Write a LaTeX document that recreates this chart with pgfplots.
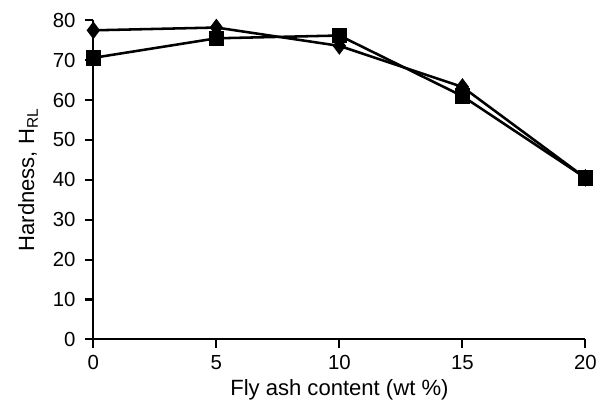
\documentclass[border=0pt]{standalone}
\usepackage{pgfplots}
\pgfplotsset{compat=1.18}
\usepackage{fontspec}
\setmainfont{Liberation Sans}
\setsansfont{Liberation Sans}

\begin{document}
\begin{tikzpicture}
  \begin{axis}[
      scale only axis,
      width=290pt, height=188pt,
      xmin=0, xmax=20, ymin=0, ymax=80,
      xtick={0,5,10,15,20},
      ytick={0,10,...,80},
      axis x line*=bottom,
      axis y line*=left,
      axis line style={line width=1.2pt, -},
      tick align=outside,
      major tick length=5pt,
      tick style={line width=1.2pt, black},
      clip=false,
      /pgf/number format/assume math mode=true,
      ticklabel style={font=\fontsize{12}{14}\selectfont},
      xticklabel style={yshift=-1pt},
      yticklabel style={xshift=-2pt},
      xlabel={Fly ash content (wt \%)},
      ylabel={Hardness, H\textsubscript{RL}},
      label style={font=\fontsize{13}{15}\selectfont},
      xlabel style={yshift=1pt},
      ylabel style={yshift=2pt},
    ]
    \addplot[black, line width=1.5pt, mark=diamond*, mark size=4pt,
      mark options={solid, fill=black}]
      coordinates {(0,77.5) (5,78.2) (10,73.6) (15,63.3) (20,40.5)};
    \addplot[black, line width=1.5pt, mark=square*, mark size=3.8pt,
      mark options={solid, fill=black}]
      coordinates {(0,70.6) (5,75.5) (10,76.2) (15,61) (20,40.5)};
  \end{axis}
  \pgfresetboundingbox
  \useasboundingbox (current axis.south west) ++(-55pt,-40pt) rectangle ([shift={(18pt,12pt)}]current axis.north east);
\end{tikzpicture}
\end{document}
